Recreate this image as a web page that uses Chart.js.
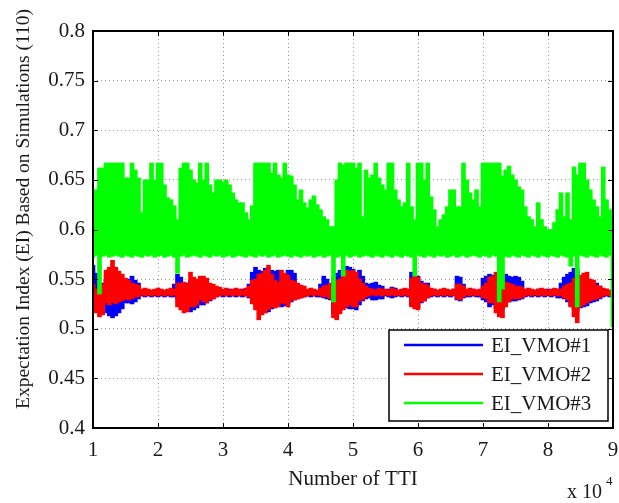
<!DOCTYPE html>
<html>
<head>
<meta charset="utf-8">
<script src="https://cdn.jsdelivr.net/npm/chart.js@4.4.1/dist/chart.umd.min.js"></script>
<style>
  html, body { margin: 0; padding: 0; background: #fff; }
  #wrap { width: 619px; height: 503px; }
</style>
</head>
<body>
<div id="wrap"><canvas id="js--chart" width="619" height="503"></canvas></div>
<script>
// sampled every 0.05 (x 10^4 TTI), starting at 1
const xStart = 1;
const xStep = 0.05;

const xTickLabels = ["1", "2", "3", "4", "5", "6", "7", "8", "9"];
const yTickLabels = ["0.4", "0.45", "0.5", "0.55", "0.6", "0.65", "0.7", "0.75", "0.8"];
const seriesNames = ["EI_VMO#1", "EI_VMO#2", "EI_VMO#3"];

// EI_VMO#1 (blue) low / high envelope
const blueLow = [
  0.535, 0.530, 0.525, 0.520, 0.516, 0.513, 0.511, 0.513, 0.516, 0.520,
  0.526, 0.526, 0.525, 0.527, 0.530, 0.533, 0.532, 0.533, 0.532, 0.533,
  0.532, 0.533, 0.532, 0.533, 0.532, 0.532, 0.530, 0.522, 0.519, 0.518,
  0.517, 0.519, 0.521, 0.524, 0.524, 0.526, 0.528, 0.530, 0.532, 0.533,
  0.532, 0.533, 0.532, 0.533, 0.532, 0.533, 0.532, 0.533, 0.531, 0.527,
  0.524, 0.520, 0.518, 0.516, 0.517, 0.520, 0.521, 0.524, 0.522, 0.523,
  0.525, 0.527, 0.529, 0.530, 0.531, 0.532, 0.533, 0.532, 0.533, 0.532,
  0.532, 0.531, 0.530, 0.529, 0.515, 0.516, 0.518, 0.520, 0.521, 0.520,
  0.520, 0.519, 0.524, 0.528, 0.530, 0.531, 0.529, 0.529, 0.530, 0.530,
  0.533, 0.532, 0.531, 0.532, 0.533, 0.532, 0.533, 0.532, 0.524, 0.522,
  0.521, 0.526, 0.528, 0.531, 0.532, 0.533, 0.532, 0.533, 0.532, 0.533,
  0.532, 0.533, 0.529, 0.528, 0.531, 0.532, 0.532, 0.533, 0.532, 0.532,
  0.529, 0.527, 0.522, 0.524, 0.520, 0.518, 0.520, 0.524, 0.527, 0.528,
  0.528, 0.529, 0.530, 0.532, 0.533, 0.532, 0.533, 0.532, 0.533, 0.532,
  0.533, 0.532, 0.533, 0.531, 0.531, 0.530, 0.527, 0.523, 0.520, 0.518,
  0.521, 0.522, 0.523, 0.526, 0.527, 0.528, 0.530, 0.532, 0.533, 0.532,
  0.533
];
const blueHigh = [
  0.564, 0.556, 0.545, 0.546, 0.550, 0.552, 0.553, 0.551, 0.549, 0.548,
  0.547, 0.550, 0.553, 0.549, 0.546, 0.539, 0.540, 0.539, 0.538, 0.539,
  0.540, 0.539, 0.538, 0.539, 0.540, 0.545, 0.555, 0.552, 0.545, 0.546,
  0.548, 0.548, 0.546, 0.546, 0.547, 0.546, 0.544, 0.542, 0.539, 0.540,
  0.539, 0.538, 0.540, 0.539, 0.538, 0.539, 0.540, 0.539, 0.545, 0.557,
  0.562, 0.559, 0.558, 0.561, 0.557, 0.559, 0.558, 0.559, 0.552, 0.550,
  0.559, 0.559, 0.556, 0.545, 0.543, 0.539, 0.538, 0.540, 0.539, 0.538,
  0.545, 0.553, 0.550, 0.545, 0.550, 0.556, 0.559, 0.562, 0.563, 0.562,
  0.560, 0.557, 0.559, 0.553, 0.546, 0.545, 0.546, 0.547, 0.544, 0.543,
  0.539, 0.540, 0.542, 0.541, 0.539, 0.538, 0.540, 0.539, 0.557, 0.556,
  0.553, 0.548, 0.546, 0.546, 0.539, 0.540, 0.538, 0.539, 0.540, 0.539,
  0.538, 0.540, 0.553, 0.552, 0.545, 0.539, 0.538, 0.540, 0.539, 0.538,
  0.551, 0.553, 0.555, 0.554, 0.553, 0.551, 0.553, 0.555, 0.553, 0.552,
  0.553, 0.552, 0.548, 0.539, 0.540, 0.538, 0.539, 0.540, 0.539, 0.538,
  0.540, 0.539, 0.538, 0.540, 0.546, 0.552, 0.555, 0.557, 0.561, 0.559,
  0.552, 0.549, 0.548, 0.546, 0.547, 0.546, 0.543, 0.539, 0.540, 0.538,
  0.539
];

// EI_VMO#2 (red) low / high envelope
const redLow = [
  0.520, 0.516, 0.512, 0.514, 0.526, 0.524, 0.526, 0.525, 0.527, 0.528,
  0.530, 0.529, 0.530, 0.532, 0.532, 0.534, 0.533, 0.534, 0.533, 0.534,
  0.533, 0.534, 0.533, 0.534, 0.533, 0.534, 0.522, 0.519, 0.516, 0.517,
  0.522, 0.522, 0.524, 0.529, 0.527, 0.526, 0.529, 0.530, 0.532, 0.533,
  0.534, 0.533, 0.534, 0.533, 0.534, 0.533, 0.534, 0.533, 0.532, 0.525,
  0.519, 0.509, 0.514, 0.516, 0.519, 0.522, 0.521, 0.522, 0.526, 0.525,
  0.522, 0.528, 0.529, 0.530, 0.531, 0.532, 0.533, 0.534, 0.533, 0.534,
  0.533, 0.532, 0.532, 0.530, 0.511, 0.509, 0.515, 0.519, 0.522, 0.524,
  0.522, 0.522, 0.528, 0.529, 0.532, 0.533, 0.534, 0.533, 0.534, 0.533,
  0.534, 0.533, 0.534, 0.533, 0.534, 0.533, 0.534, 0.533, 0.522, 0.520,
  0.519, 0.527, 0.528, 0.531, 0.533, 0.534, 0.533, 0.534, 0.533, 0.534,
  0.533, 0.534, 0.530, 0.529, 0.532, 0.534, 0.533, 0.534, 0.533, 0.534,
  0.531, 0.530, 0.526, 0.526, 0.516, 0.512, 0.511, 0.522, 0.527, 0.530,
  0.530, 0.530, 0.531, 0.533, 0.534, 0.533, 0.534, 0.533, 0.534, 0.533,
  0.534, 0.533, 0.534, 0.533, 0.533, 0.531, 0.529, 0.522, 0.512, 0.506,
  0.522, 0.524, 0.526, 0.528, 0.529, 0.530, 0.531, 0.533, 0.534, 0.533,
  0.534
];
const redHigh = [
  0.545, 0.540, 0.540, 0.545, 0.559, 0.562, 0.569, 0.562, 0.558, 0.555,
  0.551, 0.549, 0.546, 0.545, 0.544, 0.540, 0.541, 0.540, 0.539, 0.540,
  0.541, 0.540, 0.539, 0.540, 0.541, 0.540, 0.546, 0.546, 0.547, 0.545,
  0.557, 0.552, 0.550, 0.553, 0.553, 0.551, 0.546, 0.545, 0.543, 0.542,
  0.540, 0.541, 0.539, 0.540, 0.541, 0.540, 0.539, 0.541, 0.543, 0.549,
  0.550, 0.555, 0.556, 0.559, 0.564, 0.555, 0.549, 0.547, 0.559, 0.556,
  0.554, 0.549, 0.548, 0.546, 0.544, 0.543, 0.540, 0.541, 0.540, 0.539,
  0.541, 0.543, 0.544, 0.546, 0.552, 0.549, 0.550, 0.556, 0.559, 0.558,
  0.559, 0.557, 0.550, 0.546, 0.543, 0.541, 0.540, 0.539, 0.541, 0.540,
  0.540, 0.539, 0.541, 0.540, 0.539, 0.540, 0.541, 0.540, 0.551, 0.553,
  0.552, 0.546, 0.545, 0.544, 0.541, 0.540, 0.539, 0.540, 0.541, 0.540,
  0.539, 0.540, 0.545, 0.545, 0.543, 0.540, 0.541, 0.540, 0.539, 0.540,
  0.543, 0.546, 0.552, 0.553, 0.557, 0.556, 0.555, 0.547, 0.546, 0.545,
  0.543, 0.543, 0.542, 0.540, 0.541, 0.540, 0.539, 0.540, 0.541, 0.540,
  0.539, 0.540, 0.541, 0.540, 0.540, 0.543, 0.545, 0.546, 0.551, 0.550,
  0.554, 0.556, 0.557, 0.550, 0.549, 0.544, 0.543, 0.541, 0.540, 0.539,
  0.540
];

// EI_VMO#3 (green) low / high envelope
const greenLow = [
  0.572, 0.574, 0.535, 0.573, 0.574, 0.572, 0.573, 0.574, 0.573, 0.572,
  0.574, 0.573, 0.572, 0.574, 0.573, 0.572, 0.574, 0.573, 0.574, 0.572,
  0.573, 0.574, 0.572, 0.573, 0.574, 0.572, 0.556, 0.573, 0.574, 0.572,
  0.573, 0.574, 0.573, 0.572, 0.574, 0.573, 0.572, 0.574, 0.573, 0.574,
  0.572, 0.573, 0.574, 0.572, 0.573, 0.574, 0.573, 0.572, 0.574, 0.573,
  0.572, 0.574, 0.573, 0.574, 0.572, 0.573, 0.574, 0.572, 0.573, 0.574,
  0.573, 0.572, 0.574, 0.573, 0.572, 0.574, 0.573, 0.574, 0.572, 0.573,
  0.574, 0.572, 0.573, 0.574, 0.527, 0.572, 0.573, 0.553, 0.574, 0.572,
  0.573, 0.574, 0.572, 0.573, 0.574, 0.573, 0.572, 0.574, 0.573, 0.572,
  0.574, 0.573, 0.572, 0.574, 0.573, 0.572, 0.574, 0.573, 0.572, 0.553,
  0.574, 0.573, 0.572, 0.574, 0.573, 0.572, 0.574, 0.573, 0.574, 0.572,
  0.573, 0.574, 0.572, 0.573, 0.574, 0.572, 0.573, 0.574, 0.573, 0.572,
  0.574, 0.573, 0.572, 0.574, 0.573, 0.527, 0.540, 0.573, 0.572, 0.574,
  0.573, 0.572, 0.574, 0.573, 0.572, 0.574, 0.573, 0.572, 0.574, 0.573,
  0.572, 0.574, 0.573, 0.572, 0.574, 0.573, 0.572, 0.563, 0.573, 0.522,
  0.574, 0.573, 0.572, 0.574, 0.573, 0.572, 0.574, 0.573, 0.572, 0.574,
  0.502
];
const greenHigh = [
  0.637, 0.640, 0.662, 0.662, 0.667, 0.667, 0.667, 0.667, 0.667, 0.667,
  0.652, 0.652, 0.667, 0.660, 0.652, 0.617, 0.650, 0.650, 0.667, 0.650,
  0.667, 0.667, 0.645, 0.632, 0.630, 0.624, 0.610, 0.662, 0.667, 0.667,
  0.660, 0.650, 0.647, 0.667, 0.650, 0.667, 0.645, 0.637, 0.650, 0.650,
  0.648, 0.650, 0.645, 0.637, 0.630, 0.627, 0.627, 0.617, 0.610, 0.624,
  0.667, 0.667, 0.667, 0.667, 0.667, 0.657, 0.667, 0.655, 0.652, 0.667,
  0.655, 0.654, 0.645, 0.630, 0.640, 0.627, 0.622, 0.630, 0.634, 0.625,
  0.620, 0.613, 0.610, 0.603, 0.603, 0.650, 0.667, 0.665, 0.667, 0.667,
  0.667, 0.662, 0.667, 0.613, 0.660, 0.652, 0.655, 0.667, 0.652, 0.645,
  0.640, 0.667, 0.667, 0.640, 0.630, 0.623, 0.627, 0.667, 0.623, 0.610,
  0.667, 0.667, 0.650, 0.667, 0.633, 0.620, 0.603, 0.610, 0.615, 0.623,
  0.640, 0.640, 0.623, 0.623, 0.667, 0.650, 0.637, 0.630, 0.640, 0.623,
  0.667, 0.667, 0.667, 0.667, 0.667, 0.667, 0.654, 0.660, 0.664, 0.655,
  0.650, 0.643, 0.640, 0.623, 0.613, 0.610, 0.603, 0.627, 0.610, 0.603,
  0.600, 0.600, 0.607, 0.620, 0.637, 0.613, 0.637, 0.610, 0.663, 0.655,
  0.667, 0.667, 0.650, 0.640, 0.630, 0.623, 0.613, 0.663, 0.630, 0.620,
  0.610
];

const serif = "'Liberation Serif', 'Times New Roman', serif";
const textColor = "#1a1a1a";

function toBars(low, high) {
  return low.map(function (v, i) {
    return { x: Math.round((xStart + i * xStep) * 100) / 100, y: [v, high[i]] };
  });
}

// box, inward ticks, legend, y title and the x10^4 note
const framePlugin = {
  id: "frame",
  afterDatasetsDraw: function (chart) {
    const ctx = chart.ctx;
    const a = chart.chartArea;
    const xs = chart.scales.x;
    const ys = chart.scales.y;
    ctx.save();

    ctx.strokeStyle = "#000";
    ctx.lineWidth = 1;
    ctx.beginPath();
    xs.ticks.forEach(function (t) {
      const p = Math.round(xs.getPixelForValue(t.value)) + 0.5;
      ctx.moveTo(p, a.bottom); ctx.lineTo(p, a.bottom - 5);
      ctx.moveTo(p, a.top); ctx.lineTo(p, a.top + 5);
    });
    ys.ticks.forEach(function (t) {
      const p = Math.round(ys.getPixelForValue(t.value)) + 0.5;
      ctx.moveTo(a.left, p); ctx.lineTo(a.left + 5, p);
      ctx.moveTo(a.right, p); ctx.lineTo(a.right - 5, p);
    });
    ctx.stroke();

    ctx.lineWidth = 2;
    ctx.strokeRect(a.left, a.top, a.right - a.left, a.bottom - a.top);

    // legend
    const lx = a.right - 224, ly = a.bottom - 98, lw = 219, lh = 91;
    ctx.fillStyle = "#fff";
    ctx.fillRect(lx, ly, lw, lh);
    ctx.lineWidth = 1.5;
    ctx.strokeRect(lx, ly, lw, lh);
    ctx.font = "21px " + serif;
    ctx.textBaseline = "middle";
    ctx.textAlign = "left";
    const legendOrder = [2, 1, 0]; // datasets are stored green, red, blue
    legendOrder.forEach(function (di, row) {
      const ds = chart.data.datasets[di];
      const yy = ly + 15 + row * 29;
      ctx.strokeStyle = ds.backgroundColor;
      ctx.lineWidth = 2.5;
      ctx.beginPath();
      ctx.moveTo(lx + 15, yy); ctx.lineTo(lx + 94, yy);
      ctx.stroke();
      ctx.fillStyle = textColor;
      ctx.fillText(ds.label, lx + 102, yy + 1);
    });

    // y axis title
    ctx.fillStyle = textColor;
    ctx.font = "19.5px " + serif;
    ctx.textAlign = "center";
    ctx.textBaseline = "middle";
    ctx.save();
    ctx.translate(24, 209);
    ctx.rotate(-Math.PI / 2);
    ctx.fillText("Expectation Index (EI) Based on Simulations (110)", 0, 0);
    ctx.restore();

    // x 10^4
    ctx.textAlign = "left";
    ctx.font = "20px " + serif;
    ctx.fillText("x 10", 567, 493);
    ctx.font = "13px " + serif;
    ctx.fillText("4", 606, 482);

    ctx.restore();
  }
};

const data = {
  datasets: [
    { label: seriesNames[2], data: toBars(greenLow, greenHigh), backgroundColor: "#00ff00", order: 1 },
    { label: seriesNames[1], data: toBars(redLow, redHigh), backgroundColor: "#ff0000", order: 2 },
    { label: seriesNames[0], data: toBars(blueLow, blueHigh), backgroundColor: "#0000ff", order: 3 }
  ]
};

const config = {
  type: "bar",
  data: data,
  options: {
    responsive: false,
    animation: false,
    events: [],
    layout: { padding: { top: 31, right: 6, left: 0, bottom: 0 } },
    datasets: {
      bar: { grouped: false, barThickness: 4, borderWidth: 0, clip: 0 }
    },
    plugins: {
      legend: { display: false },
      tooltip: { enabled: false }
    },
    scales: {
      x: {
        type: "linear",
        min: 1,
        max: 9,
        offset: false,
        ticks: {
          stepSize: 1,
          padding: 10,
          maxRotation: 0,
          color: textColor,
          font: { family: serif, size: 21 },
          callback: function (v) { return xTickLabels[Math.round(v) - 1]; }
        },
        grid: { color: "#9a9a9a", lineWidth: 1, drawTicks: false, offset: false },
        border: { display: false, dash: [1, 3] },
        title: {
          display: true,
          text: "Number of TTI",
          color: textColor,
          font: { family: serif, size: 21 },
          padding: { top: 0, bottom: 11 }
        },
        afterFit: function (s) {
          s.height = 75;
          s.paddingLeft = 0;
          s.paddingRight = 0;
        }
      },
      y: {
        min: 0.4,
        max: 0.8,
        ticks: {
          stepSize: 0.05,
          padding: 8,
          color: textColor,
          font: { family: serif, size: 21 },
          callback: function (v) { return yTickLabels[Math.round((v - 0.4) / 0.05)]; }
        },
        grid: { color: "#9a9a9a", lineWidth: 1, drawTicks: false },
        border: { display: false, dash: [1, 3] },
        afterFit: function (s) {
          s.width = 93;
          s.paddingTop = 0;
          s.paddingBottom = 0;
        }
      }
    }
  },
  plugins: [framePlugin]
};

new Chart(document.getElementById("js--chart"), config);
</script>
</body>
</html>
